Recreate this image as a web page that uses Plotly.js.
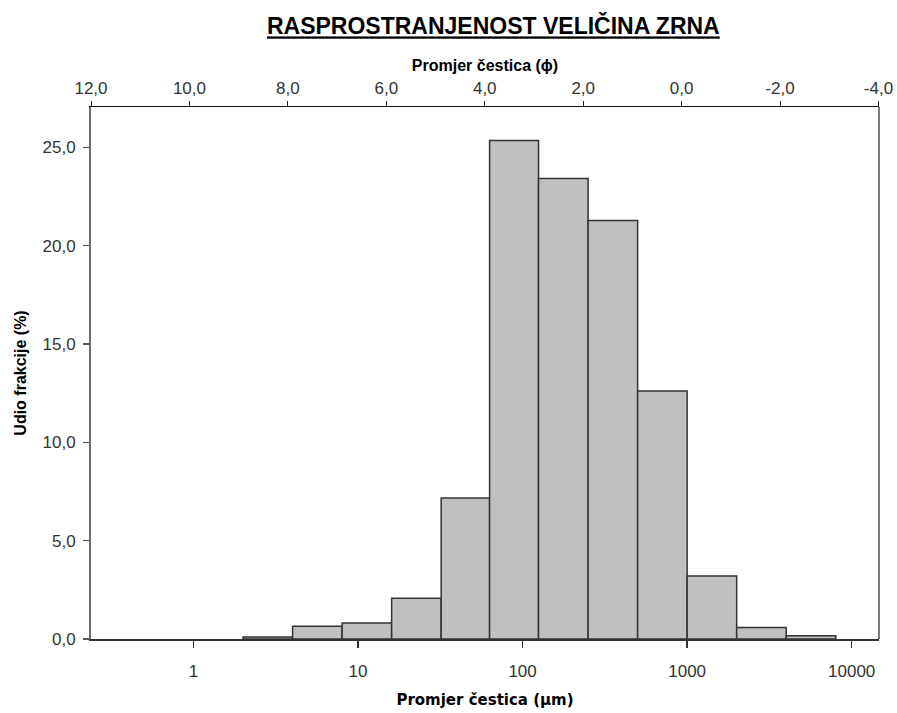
<!DOCTYPE html>
<html>
<head>
<meta charset="utf-8">
<script src="https://cdn.plot.ly/plotly-3.0.1.min.js"></script>
<style>
  html, body { margin: 0; padding: 0; background: #ffffff; }
  #chart { width: 897px; height: 713px; }
</style>
</head>
<body>
<div id="chart"></div>
<script>
// Grain-size classes (µm): lower and upper sieve limits of each fraction
const binLower = [2, 4, 8, 16, 32, 63, 125, 250, 500, 1000, 2000, 4000];
const binUpper = [4, 8, 16, 32, 63, 125, 250, 500, 1000, 2000, 4000, 8000];
// Share of each fraction (%)
const fraction = [0.1, 0.65, 0.81, 2.07, 7.17, 25.35, 23.41, 21.28, 12.61, 3.2, 0.58, 0.17];

// Bottom axis ticks (µm, log scale)
const umTicks = [1, 10, 100, 1000, 10000];
const umLabels = ['1', '10', '100', '1000', '10000'];
// Top axis ticks (phi scale)
const phiTicks = [12, 10, 8, 6, 4, 2, 0, -2, -4];
const phiLabels = ['12,0', '10,0', '8,0', '6,0', '4,0', '2,0', '0,0', '-2,0', '-4,0'];

const binWidth = binUpper.map((u, i) => u - binLower[i]);

const tickFont = { family: 'Liberation Sans, Arial, sans-serif', size: 17, color: '#333333' };
const titleFont = { family: 'Liberation Sans, Arial, sans-serif', size: 16, color: '#000000', weight: 'bold' };

const traces = [
  {
    type: 'bar',
    x: binLower,
    y: fraction,
    width: binWidth,
    offset: 0,
    marker: { color: '#c0c0c0', line: { color: '#333333', width: 1.5 } },
    hoverinfo: 'x+y',
    showlegend: false
  },
  {
    // keeps the phi axis attached to the plot
    type: 'scatter',
    x: [],
    y: [],
    xaxis: 'x2',
    yaxis: 'y',
    hoverinfo: 'skip',
    showlegend: false
  }
];

const layout = {
  width: 897,
  height: 713,
  paper_bgcolor: '#ffffff',
  plot_bgcolor: '#ffffff',
  separators: ',.',
  margin: { l: 91, r: 18, t: 107, b: 74 },
  bargap: 0,
  title: {
    text: '<b><u>RASPROSTRANJENOST VELIČINA ZRNA</u></b>',
    font: { family: 'Liberation Sans, Arial, sans-serif', size: 23, color: '#000000' },
    xref: 'container',
    x: 0.55,
    xanchor: 'center',
    yref: 'container',
    y: 0.963,
    yanchor: 'middle'
  },
  xaxis: {
    type: 'log',
    range: [-0.623, 4.166],
    tickvals: umTicks,
    ticktext: umLabels,
    ticks: 'outside',
    ticklen: 7,
    tickwidth: 1.5,
    tickcolor: '#333333',
    tickfont: tickFont,
    ticklabelstandoff: 9,
    showline: true,
    linecolor: '#333333',
    linewidth: 1.5,
    showgrid: false,
    zeroline: false,
    title: {
      text: 'Promjer čestica (µm)',
      font: { family: 'DejaVu Sans, sans-serif', size: 15, color: '#000000', weight: 'bold' },
      standoff: 14
    }
  },
  xaxis2: {
    overlaying: 'x',
    side: 'top',
    anchor: 'y',
    range: [12, -4.01],
    tickvals: phiTicks,
    ticktext: phiLabels,
    ticks: 'outside',
    ticklen: 5,
    tickwidth: 1,
    tickcolor: '#222222',
    tickfont: tickFont,
    showline: true,
    linecolor: '#111111',
    linewidth: 1.2,
    showgrid: false,
    zeroline: false,
    title: {
      text: 'Promjer čestica (ϕ)',
      font: titleFont,
      standoff: 3
    }
  },
  yaxis: {
    range: [0, 27.05],
    tickvals: [0, 5, 10, 15, 20, 25],
    tickformat: '.1f',
    ticks: 'outside',
    ticklen: 6,
    tickwidth: 1.5,
    tickcolor: '#555555',
    tickfont: tickFont,
    ticklabelstandoff: 4,
    showline: true,
    linecolor: '#6a6a6a',
    linewidth: 2,
    showgrid: false,
    zeroline: false,
    title: {
      text: 'Udio frakcije (%)',
      font: titleFont,
      standoff: 12
    }
  },
  shapes: [
    {
      type: 'line',
      xref: 'paper', yref: 'paper',
      x0: 1, x1: 1, y0: 0, y1: 1,
      line: { color: '#222222', width: 1.2 }
    }
  ]
};

Plotly.newPlot('chart', traces, layout, { displayModeBar: false, staticPlot: true });
</script>
</body>
</html>
